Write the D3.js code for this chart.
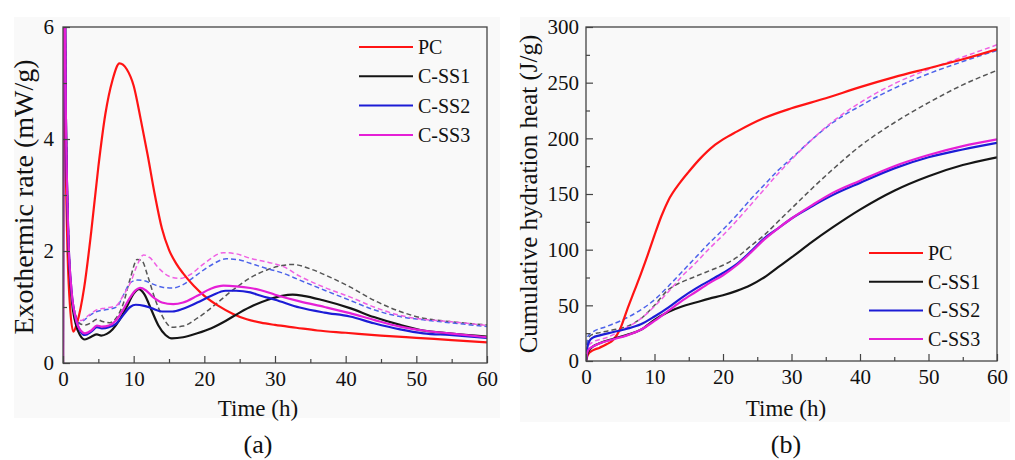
<!DOCTYPE html>
<html>
<head>
<meta charset="utf-8">
<script src="https://cdn.jsdelivr.net/npm/d3@7"></script>
<style>
  html, body { margin: 0; padding: 0; background: #ffffff; }
  svg text { font-family: "Liberation Serif", "Times New Roman", serif; fill: #111; }
</style>
</head>
<body>
<svg id="chart" width="1015" height="460"></svg>
<script>
// ---------------- DATA ----------------
const legendLabels = ["PC", "C-SS1", "C-SS2", "C-SS3"];
const xTicks = [0, 10, 20, 30, 40, 50, 60];
const yTicksA = [0, 2, 4, 6];
const yTicksB = [0, 50, 100, 150, 200, 250, 300];

// (a) Exothermic rate (mW/g) vs time (h): [t, value]
const pcRate = [[0,0],[0.1,8],[0.3,4.5],[0.6,2.2],[1.0,1.0],[1.46,0.56],[2,0.72],[3,1.35],[4,2.35],[5,3.5],[6,4.45],[7,5.05],[8,5.35],[9,5.25],[10,4.95],[11,4.35],[12,3.7],[13,3.0],[14,2.4],[15,2.02],[16,1.78],[17,1.6],[18.5,1.38],[20,1.2],[22,1.02],[24,0.88],[26,0.78],[28,0.72],[30,0.68],[33,0.63],[36,0.58],[40,0.54],[45,0.49],[50,0.45],[55,0.41],[60,0.37]];
const ss1Rate = [[0,0],[0.1,9],[0.4,4.5],[0.75,2.2],[1.2,1.2],[1.8,0.7],[2.4,0.5],[3.1,0.42],[4,0.47],[4.8,0.51],[5.4,0.49],[6.2,0.52],[7,0.6],[8,0.77],[9,1.0],[10,1.24],[10.75,1.32],[11.5,1.23],[12.5,0.95],[13.5,0.67],[14.5,0.5],[15.4,0.44],[17,0.46],[19,0.53],[21,0.62],[23,0.75],[25,0.9],[27,1.03],[29,1.13],[31,1.2],[32.5,1.22],[34,1.2],[36.8,1.12],[40.6,0.98],[44,0.82],[47.7,0.68],[51,0.58],[54.7,0.53],[60,0.47]];
const ss2Rate = [[0,0],[0.1,9],[0.4,4.5],[0.75,2.3],[1.2,1.3],[1.8,0.8],[2.5,0.56],[3.1,0.5],[4,0.56],[4.8,0.64],[5.5,0.62],[6.5,0.64],[7.5,0.7],[8.5,0.85],[9.5,1.0],[10.3,1.04],[11.5,1.02],[12.5,0.98],[14,0.92],[15.5,0.92],[17,0.97],[19,1.08],[21,1.2],[23,1.29],[24.5,1.29],[26.5,1.26],[28,1.2],[30,1.13],[33.5,0.99],[37,0.9],[40.6,0.83],[44,0.71],[47.7,0.6],[51,0.53],[54.7,0.5],[60,0.45]];
const ss3Rate = [[0,0],[0.1,9],[0.4,4.5],[0.75,2.3],[1.2,1.3],[1.8,0.8],[2.5,0.58],[3.1,0.53],[4,0.58],[4.8,0.67],[5.5,0.65],[6.5,0.67],[7.5,0.76],[8.5,0.95],[9.5,1.17],[10.3,1.3],[10.9,1.34],[11.7,1.3],[12.7,1.18],[14,1.08],[15.6,1.05],[17,1.08],[19,1.2],[21,1.33],[22.7,1.38],[24.5,1.37],[26.5,1.34],[28,1.3],[30,1.22],[33.5,1.1],[37,1.0],[40.6,0.89],[44,0.77],[47.7,0.65],[51,0.58],[54.7,0.53],[60,0.46]];
const ss1RateDash = [[0,0],[0.1,9],[0.4,4.6],[0.75,2.4],[1.2,1.3],[1.8,0.85],[2.4,0.7],[3.2,0.68],[4,0.72],[4.8,0.78],[5.6,0.74],[6.6,0.72],[7.5,0.8],[8.5,1.05],[9.5,1.5],[10.5,1.85],[11.2,1.82],[12,1.55],[13,1.15],[14,0.85],[15.4,0.64],[17,0.66],[19,0.8],[21.8,1.07],[24,1.3],[26.5,1.52],[29,1.67],[31,1.74],[32.5,1.76],[35,1.68],[38,1.52],[40.6,1.36],[44,1.12],[47.7,0.92],[51,0.8],[54.7,0.74],[60,0.68]];
const ss2RateDash = [[0,0],[0.1,9],[0.4,4.6],[0.75,2.4],[1.2,1.2],[1.9,0.71],[2.8,0.75],[3.8,0.85],[4.8,0.92],[6,0.95],[7.6,1.0],[8.5,1.2],[9.5,1.43],[10.5,1.48],[11.5,1.47],[12.5,1.42],[14.2,1.35],[15.6,1.34],[17,1.4],[19,1.58],[21,1.75],[23.1,1.86],[25,1.84],[26.5,1.78],[28.5,1.7],[31.2,1.6],[33.5,1.48],[37,1.3],[40.6,1.12],[44,0.95],[47.7,0.83],[51,0.77],[54.7,0.72],[60,0.65]];
const ss3RateDash = [[0,0],[0.1,9],[0.4,4.6],[0.75,2.4],[1.2,1.25],[1.9,0.8],[2.6,0.76],[3.6,0.85],[4.8,0.95],[6,0.98],[7.6,1.03],[8.5,1.2],[9.6,1.45],[10.5,1.75],[11.4,1.93],[12.3,1.88],[13.5,1.7],[15,1.55],[16.5,1.51],[18,1.58],[20,1.78],[22.7,1.97],[24.5,1.95],[26.5,1.87],[29,1.8],[31.2,1.72],[33.5,1.55],[37,1.35],[40.6,1.18],[44,1.0],[47.7,0.85],[51,0.78],[54.7,0.74],[60,0.67]];

// (b) Cumulative hydration heat (J/g) vs time (h): [t, value]
const pcHeat = [[0,0],[0.3,6],[1,9.5],[2,12],[3,15],[4,19],[5,29],[6,46],[7,62],[8,78],[9,95],[10,113],[11,130],[12,144],[13.7,160],[15,170],[16.7,182],[18.6,193],[20,199],[22,206],[25.9,218],[30,227],[35,236],[40,246],[45,255],[50,263],[55,271],[60,280]];
const ss1Heat = [[0,0],[0.3,8],[1,13],[2,16],[4,20],[6,23.5],[8,28],[10,37],[12,44],[14,49],[16,52.5],[18,56],[20,59],[22,63],[24,68],[26,75],[28,84],[30,93],[33,107],[36,120],[40,136],[45,153],[50,166],[55,176],[60,183]];
const ss2Heat = [[0,0],[0.2,12],[0.5,18],[1,21],[2,23],[4,26],[6,29],[8,33],[10,40],[12,48],[14,57],[16,65],[18,72],[20,79],[22,87],[24,98],[26,110],[28,119],[30,128],[33,139],[36,149],[40,160],[45,173],[50,183],[55,190],[60,196]];
const ss3Heat = [[0,0],[0.2,8],[0.5,11],[1,13],[2,16],[4,19.5],[6,23],[8,28],[10,36],[12,45],[14,54],[16,62],[18,70],[20,77],[22,86],[24,97],[26,109],[28,119],[30,128],[33,140],[36,151],[40,162],[45,175],[50,185],[55,193],[60,199]];
const ss1HeatDash = [[0,0],[0.2,15],[0.5,22],[1,24],[2,25.5],[4,28],[6,31],[8,38],[10,50],[12,64],[13,68],[14,71],[16,76],[18,81],[20,86],[22,93],[24,103],[26,113],[28,125],[30,137],[33,155],[36,172],[40,193],[45,214],[50,232],[55,248],[60,261]];
const ss2HeatDash = [[0,0],[0.25,22],[1,26],[3,31],[5,36],[8,46],[10,55],[12,67],[14,80],[16,93],[18,106],[20,118],[22,131],[24,145],[26,158],[28,171],[30,182],[33,199],[36,214],[40,229],[45,245],[50,258],[55,269],[60,279]];
const ss3HeatDash = [[0,0],[0.25,13],[1,17],[3,21],[5,27],[8,38],[10,49],[12,62],[14,76],[16,88],[18,101],[20,113],[22,126],[24,140],[26,154],[28,168],[30,181],[33,199],[36,215],[40,232],[45,249],[50,262],[55,273],[60,284]];

// ---------------- STYLES ----------------
const colors = { pc: "#ff1414", ss1: "#151515", ss2: "#1c1cd6", ss3: "#e51fd6",
                 ss1d: "#555555", ss2d: "#4d63ea", ss3d: "#f060e4" };

const svg = d3.select("#chart");

// panel backgrounds
svg.append("rect").attr("x", 14).attr("y", 17).attr("width", 486).attr("height", 401).attr("fill", "#f9f9f9");
svg.append("rect").attr("x", 520).attr("y", 17).attr("width", 490).attr("height", 405).attr("fill", "#f9f9f9");

function panel(opts) {
  const { x0, x1, y0, y1, yDomain, yTicks, yMinor, id, solid, dashed, legend, yTitle, yTitleX, yTitleSize, yTitleY, label, titleX, yPad } = opts;
  const x = d3.scaleLinear().domain([0, 60]).range([x0, x1]);
  const y = d3.scaleLinear().domain(yDomain).range([y1, y0]);
  const g = svg.append("g");

  g.append("clipPath").attr("id", id).append("rect")
    .attr("x", x0).attr("y", y0).attr("width", x1 - x0).attr("height", y1 - y0);

  const line = d3.line().x(d => x(d[0])).y(d => y(d[1])).curve(d3.curveMonotoneX);
  const plot = g.append("g").attr("clip-path", `url(#${id})`);

  dashed.forEach(s => {
    plot.append("path").datum(s.data).attr("d", line).attr("fill", "none")
      .attr("stroke", s.color).attr("stroke-width", 1.5).attr("stroke-dasharray", "5,3");
  });
  solid.forEach(s => {
    plot.append("path").datum(s.data).attr("d", line).attr("fill", "none")
      .attr("stroke", s.color).attr("stroke-width", 2.2);
  });

  // frame
  g.append("rect").attr("x", x0).attr("y", y0).attr("width", x1 - x0).attr("height", y1 - y0)
    .attr("fill", "none").attr("stroke", "#444").attr("stroke-width", 1.3);

  // x axis
  g.append("g").attr("transform", `translate(0,${y1})`)
    .call(d3.axisBottom(x).tickValues(xTicks).tickSize(-7).tickPadding(8).tickFormat(d3.format("d")));
  g.append("g").attr("transform", `translate(0,${y1})`)
    .call(d3.axisBottom(x).tickValues(d3.range(5, 60, 10)).tickSize(-4).tickFormat(""));
  // y axis
  g.append("g").attr("transform", `translate(${x0},0)`)
    .call(d3.axisLeft(y).tickValues(yTicks).tickSize(-7).tickPadding(yPad).tickFormat(d3.format("d")));
  g.append("g").attr("transform", `translate(${x0},0)`)
    .call(d3.axisLeft(y).tickValues(yMinor).tickSize(-4).tickFormat(""));
  g.selectAll(".domain").remove();
  g.selectAll(".tick line").attr("stroke", "#444").attr("stroke-width", 1.2);
  g.selectAll(".tick text").attr("font-size", 21).attr("font-family", "Liberation Serif").attr("fill", "#111");

  // axis titles
  g.append("text").attr("x", titleX).attr("y", 416).attr("text-anchor", "middle")
    .attr("font-size", 23).text("Time (h)");
  g.append("text").attr("transform", `translate(${yTitleX},${yTitleY}) rotate(-90)`)
    .attr("text-anchor", "middle").attr("font-size", yTitleSize).text(yTitle);
  svg.append("text").attr("x", titleX).attr("y", 453).attr("text-anchor", "middle")
    .attr("font-size", 26).text(label);

  // legend
  legend.rows.forEach((r, i) => {
    const yy = legend.y + i * legend.dy;
    g.append("line").attr("x1", legend.x).attr("x2", legend.x + 54).attr("y1", yy).attr("y2", yy)
      .attr("stroke", r.color).attr("stroke-width", 2);
    g.append("text").attr("x", legend.x + 59).attr("y", yy).attr("dy", "0.35em")
      .attr("font-size", 20).text(r.label);
  });
}

const solidA = [
  { data: pcRate, color: colors.pc }, { data: ss1Rate, color: colors.ss1 },
  { data: ss2Rate, color: colors.ss2 }, { data: ss3Rate, color: colors.ss3 }];
const dashedA = [
  { data: ss1RateDash, color: colors.ss1d }, { data: ss2RateDash, color: colors.ss2d },
  { data: ss3RateDash, color: colors.ss3d }];
const solidB = [
  { data: pcHeat, color: colors.pc }, { data: ss1Heat, color: colors.ss1 },
  { data: ss2Heat, color: colors.ss2 }, { data: ss3Heat, color: colors.ss3 }];
const dashedB = [
  { data: ss1HeatDash, color: colors.ss1d }, { data: ss2HeatDash, color: colors.ss2d },
  { data: ss3HeatDash, color: colors.ss3d }];
const legendColors = [colors.pc, colors.ss1, colors.ss2, colors.ss3];
const legendRows = legendLabels.map((l, i) => ({ label: l, color: legendColors[i] }));

panel({ id: "clipA", x0: 63, x1: 487, y0: 27, y1: 363, yDomain: [0, 6], yTicks: yTicksA,
  yMinor: [1, 3, 5], solid: solidA, dashed: dashedA, yPad: 9,
  legend: { x: 359, y: 47, dy: 29.3, rows: legendRows },
  yTitle: "Exothermic rate (mW/g)", yTitleX: 33, yTitleY: 197, yTitleSize: 28, label: "(a)", titleX: 258 });

panel({ id: "clipB", x0: 586, x1: 997, y0: 27, y1: 361, yDomain: [0, 300], yTicks: yTicksB,
  yMinor: [25, 75, 125, 175, 225, 275], solid: solidB, dashed: dashedB, yPad: 7,
  legend: { x: 869, y: 253, dy: 28.7, rows: legendRows },
  yTitle: "Cumulative hydration heat (J/g)", yTitleX: 537, yTitleY: 194, yTitleSize: 25, label: "(b)", titleX: 786 });
</script>
</body>
</html>
